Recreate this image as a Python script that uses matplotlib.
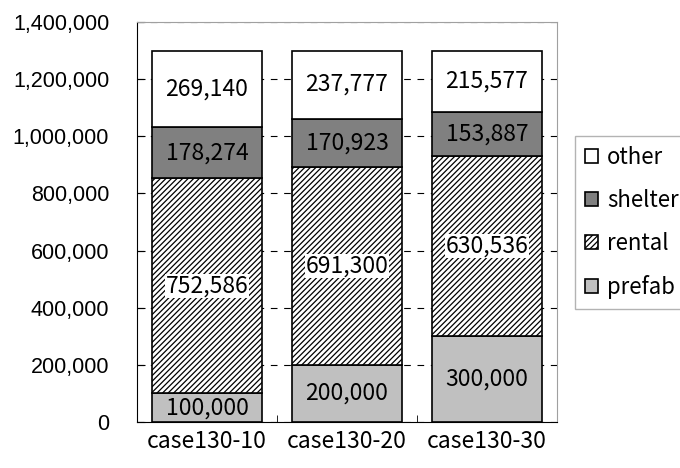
import numpy as np
import matplotlib.pyplot as plt
from matplotlib.ticker import FuncFormatter, FixedLocator

cases = ['case130-10', 'case130-20', 'case130-30']
prefab = [100000, 200000, 300000]
rental = [752586, 691300, 630536]
shelter = [178274, 170923, 153887]
other = [269140, 237777, 215577]

jp = ['Noto Sans CJK JP', 'DejaVu Sans']
plt.rcParams['hatch.color'] = '#404040'
plt.rcParams['hatch.linewidth'] = 0.9

fig = plt.figure(figsize=(6.8, 4.68), dpi=100)
ax = fig.add_axes([137 / 680, 46 / 468, 420 / 680, 400 / 468])

x = np.arange(len(cases))
w = 0.78
series = [
    ('prefab', prefab, dict(color='#c0c0c0')),
    ('rental', rental, dict(color='white', hatch='//////')),
    ('shelter', shelter, dict(color='#808080')),
    ('other', other, dict(color='white')),
]

# stacked segments, each labelled with its own value
bottom = np.zeros(len(cases))
handles = {}
for name, vals, style in series:
    vals = np.array(vals, dtype=float)
    bars = ax.bar(x, vals, w, bottom=bottom, edgecolor='black', linewidth=1.2,
                  zorder=3, label=name, **style)
    handles[name] = bars
    for xi, b, v in zip(x, bottom, vals):
        box = dict(facecolor='white', edgecolor='none', pad=0.5) if name == 'rental' else None
        ax.text(xi, b + v / 2, f'{int(v):,}', ha='center', va='center',
                fontsize=16.5, family=jp, zorder=4, bbox=box)
    bottom += vals

ax.set_xlim(-0.5, 2.5)
ax.set_ylim(0, 1400000)
ax.set_yticks(np.arange(0, 1400001, 200000))
ax.yaxis.set_major_formatter(FuncFormatter(lambda v, p: f'{int(v):,}'))
ax.grid(axis='y', color='black', linestyle=(0, (6, 6)), linewidth=0.8, zorder=0)
ax.tick_params(axis='y', direction='in', length=6, labelsize=15.5, pad=20)
for lab in ax.get_yticklabels():
    lab.set_family(['Liberation Sans', 'DejaVu Sans'])

ax.set_xticks(x)
ax.set_xticklabels(cases, family=jp, fontsize=16.5)
ax.tick_params(axis='x', length=0, pad=6)
ax.xaxis.set_minor_locator(FixedLocator([0.5, 1.5]))
ax.tick_params(axis='x', which='minor', direction='in', length=5)

ax.spines['left'].set_color('black')
ax.spines['bottom'].set_color('black')
ax.spines['top'].set_color('#a0a0a0')
ax.spines['right'].set_color('#a0a0a0')

order = ['other', 'shelter', 'rental', 'prefab']
leg = fig.legend([handles[k] for k in order], order, loc='upper left',
                 bbox_to_anchor=(575 / 680, 1 - 136 / 468), borderaxespad=0,
                 frameon=True, fancybox=False, edgecolor='#a0a0a0',
                 prop={'family': jp, 'size': 16},
                 handlelength=0.6, handleheight=0.6, handletextpad=0.4,
                 labelspacing=0.9, borderpad=0.45)
leg.get_frame().set_linewidth(1.0)

fig.savefig('out.png', dpi=100)
